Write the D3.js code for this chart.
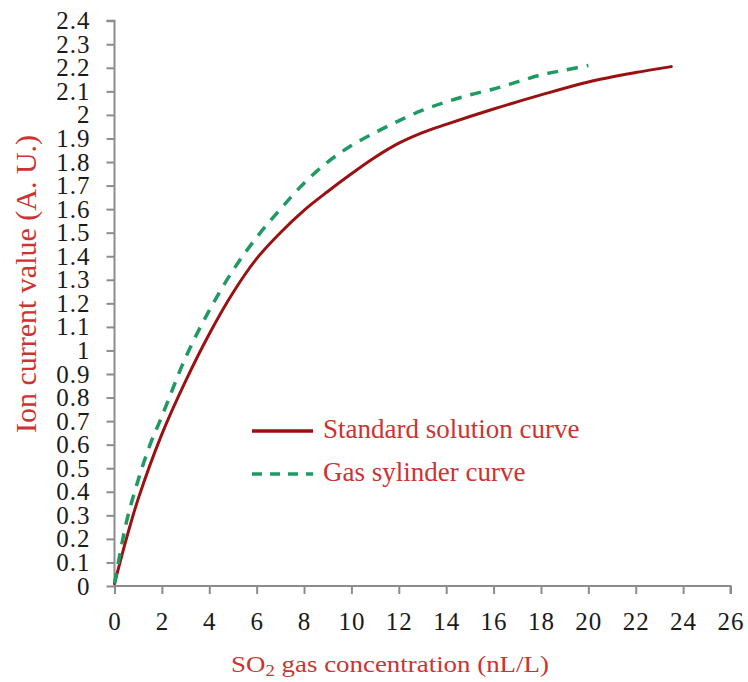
<!DOCTYPE html>
<html>
<head>
<meta charset="utf-8">
<script src="https://cdn.jsdelivr.net/npm/d3@7"></script>
<style>
  html, body { margin: 0; padding: 0; background: #fff; }
  svg { display: block; font-family: "Liberation Serif", "Times New Roman", serif; }
</style>
</head>
<body>
<svg id="chart" width="748" height="682"></svg>
<script>
// data
const standardX = [0, 0.5, 1, 2, 3, 4, 5, 6, 7, 8, 9, 10, 11, 12, 13, 14, 16, 18, 20, 22, 23.5];
const standardY = [0.01, 0.2, 0.37, 0.645, 0.87, 1.07, 1.245, 1.39, 1.50, 1.595, 1.675, 1.75, 1.82, 1.88, 1.925, 1.96, 2.025, 2.085, 2.14, 2.18, 2.205];

const gasX = [0, 0.5, 1, 1.5, 2, 3, 4, 5, 6, 7, 8, 9, 10, 11, 12, 13, 14, 15, 16, 17, 18, 19, 20];
const gasY = [0.01, 0.27, 0.45, 0.60, 0.72, 0.97, 1.17, 1.34, 1.48, 1.60, 1.71, 1.80, 1.87, 1.925, 1.975, 2.02, 2.055, 2.085, 2.11, 2.14, 2.17, 2.19, 2.21];

const xTicks = [0, 2, 4, 6, 8, 10, 12, 14, 16, 18, 20, 22, 24, 26];
const yTicks = [0, 0.1, 0.2, 0.3, 0.4, 0.5, 0.6, 0.7, 0.8, 0.9, 1, 1.1, 1.2,
                1.3, 1.4, 1.5, 1.6, 1.7, 1.8, 1.9, 2, 2.1, 2.2, 2.3, 2.4];

const seriesNames = ["Standard solution curve", "Gas sylinder curve"];

const redLine = "#9b1111";
const greenLine = "#1f9a62";
const titleRed = "#cc3333";
const axisGrey = "#8c8c8c";

const svg = d3.select("#chart");

const x = d3.scaleLinear().domain([0, 26]).range([114.5, 730.5]);
const y = d3.scaleLinear().domain([0, 2.4]).range([586, 20.7]);

// Y axis
const yAxis = svg.append("g")
    .attr("transform", `translate(${x(0)},0)`)
    .call(d3.axisLeft(y).tickValues(yTicks).tickSize(8).tickPadding(16)
        .tickFormat(d3.format("~g")));

// X axis
const xAxis = svg.append("g")
    .attr("transform", `translate(0,${y(0)})`)
    .call(d3.axisBottom(x).tickValues(xTicks).tickSize(8).tickPadding(18)
        .tickFormat(d3.format("~g")));

[xAxis, yAxis].forEach(g => {
    g.select(".domain").attr("stroke", axisGrey).attr("stroke-width", 2);
    g.selectAll(".tick line").attr("stroke", axisGrey).attr("stroke-width", 2);
    g.selectAll(".tick text")
        .attr("fill", "#1a1a1a")
        .style("font-family", "'Liberation Serif', serif")
        .style("font-size", "25px")
        .style("letter-spacing", "1px");
});
// plain axis lines without the default outer caps
yAxis.select(".domain").attr("d", `M-8,${y(2.4)}H0V${y(0)}`);
xAxis.select(".domain").attr("d", `M${x(0)},0H${x(26)}V8`);

// Curves (smoothed like the spreadsheet lines)
const line = d3.line()
    .x(d => x(d[0]))
    .y(d => y(d[1]))
    .curve(d3.curveCatmullRom.alpha(0.5));

const standardData = standardX.map((v, i) => [v, standardY[i]]);
const gasData = gasX.map((v, i) => [v, gasY[i]]);

svg.append("path")
    .datum(standardData)
    .attr("d", line)
    .attr("fill", "none")
    .attr("stroke", redLine)
    .attr("stroke-width", 3)
    .attr("stroke-linecap", "round");

svg.append("path")
    .datum(gasData)
    .attr("d", line)
    .attr("fill", "none")
    .attr("stroke", greenLine)
    .attr("stroke-width", 3.5)
    .attr("stroke-dasharray", "11,9");

// Legend
const legend = svg.append("g");
const legendRows = [
    { name: seriesNames[0], color: redLine, dash: null, y: 431 },
    { name: seriesNames[1], color: greenLine, dash: "10,8", y: 474 }
];
legendRows.forEach(r => {
    legend.append("line")
        .attr("x1", 252).attr("x2", 313)
        .attr("y1", r.y).attr("y2", r.y)
        .attr("stroke", r.color)
        .attr("stroke-width", 3.5)
        .attr("stroke-dasharray", r.dash);
    legend.append("text")
        .attr("x", 323)
        .attr("y", r.y + 7)
        .attr("fill", titleRed)
        .style("font-size", "27px")
        .text(r.name);
});

// Axis titles
svg.append("text")
    .attr("transform", "translate(36,284) rotate(-90)")
    .attr("text-anchor", "middle")
    .attr("fill", titleRed)
    .style("font-size", "30px")
    .text("Ion current value (A. U.)");

const xTitle = svg.append("text")
    .attr("transform", "translate(390,672) scale(1.17,1)")
    .attr("text-anchor", "middle")
    .attr("fill", titleRed)
    .style("font-size", "23px");
xTitle.append("tspan").text("SO");
xTitle.append("tspan").attr("dy", 4).style("font-size", "16px").text("2");
xTitle.append("tspan").attr("dy", -4).text(" gas concentration (nL/L)");
</script>
</body>
</html>
